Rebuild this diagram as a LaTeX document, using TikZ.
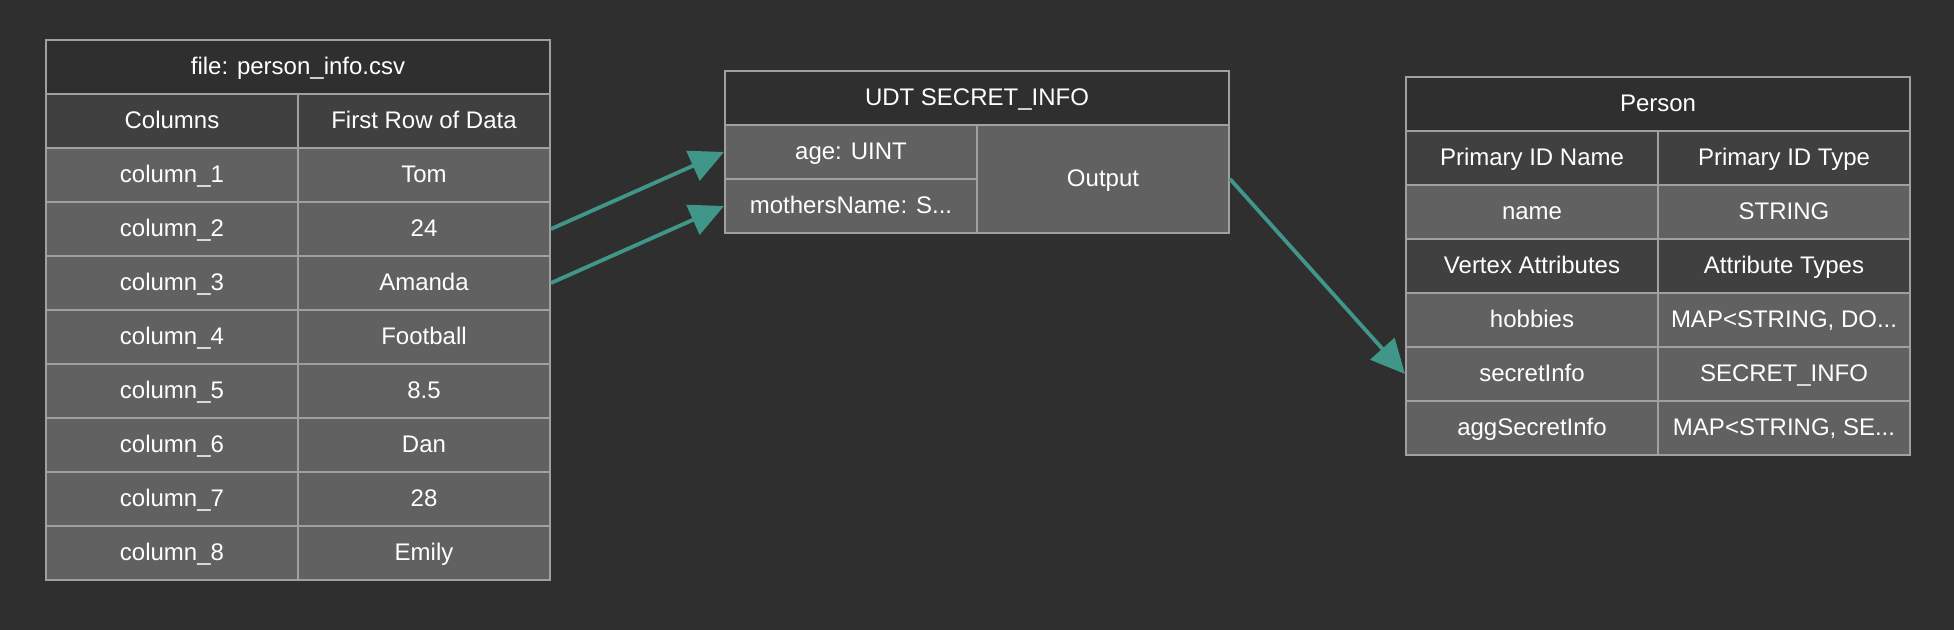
\documentclass[tikz,border=0pt]{standalone}
\usepackage{fontspec}
\setmainfont{Liberation Sans}
\usetikzlibrary{arrows.meta}

\definecolor{bgdark}{RGB}{47,47,47}
\definecolor{headgray}{RGB}{64,64,64}
\definecolor{datagray}{RGB}{97,97,97}
\definecolor{cellline}{RGB}{160,160,160}
\definecolor{linkteal}{RGB}{65,150,138}

\tikzset{
    cell/.style={draw=cellline,line width=1pt,minimum width=126pt,minimum height=27pt,inner sep=0pt,text height=9pt,text depth=1.4pt,text=white,font=\fontsize{12}{14}\selectfont},
    titlecell/.style={cell,fill=bgdark,minimum width=252pt},
    headcell/.style={cell,fill=headgray},
    datacell/.style={cell,fill=datagray},
    link/.style={draw=linkteal,line width=1.9pt,-{Triangle[length=17pt,width=16pt]}}
}

\begin{document}
\begin{tikzpicture}[x=0.5pt,y=-0.5pt]
            \fill[bgdark] (0,0) rectangle (1954,630);
            \useasboundingbox (0,0) rectangle (1954,630);

            % csv file
            \node[titlecell] (file) at (298,67){file: person\_info.csv};
            \node[headcell] (cols) at (172,121){Columns};
            \node[headcell] (first) at (424,121){First Row of Data};
            \node[datacell] (c1) at (172,175){column\_1};
            \node[datacell] (c1v) at (424,175){Tom};
            \node[datacell] (c2) at (172,229){column\_2};
            \node[datacell] (c2v) at (424,229){24};
            \node[datacell] (c3) at (172,283){column\_3};
            \node[datacell] (c3v) at (424,283){Amanda};
            \node[datacell] (c4) at (172,337){column\_4};
            \node[datacell] (c4v) at (424,337){Football};
            \node[datacell] (c5) at (172,391){column\_5};
            \node[datacell] (c5v) at (424,391){8.5};
            \node[datacell] (c6) at (172,445){column\_6};
            \node[datacell] (c6v) at (424,445){Dan};
            \node[datacell] (c7) at (172,499){column\_7};
            \node[datacell] (c7v) at (424,499){28};
            \node[datacell] (c8) at (172,553){column\_8};
            \node[datacell] (c8v) at (424,553){Emily};

            % udt
            \node[titlecell] (udt) at (977,98){UDT SECRET\_INFO};
            \node[datacell] (age) at (851,152){age: UINT};
            \node[datacell] (mname) at (851,206){mothersName: S...};
            \node[datacell,minimum height=54pt] (out) at (1103,179){Output};

            % vertex
            \node[titlecell] (person) at (1658,104){Person};
            \node[headcell] (pidname) at (1532,158){Primary ID Name};
            \node[headcell] (pidtype) at (1784,158){Primary ID Type};
            \node[datacell] (name) at (1532,212){name};
            \node[datacell] (namet) at (1784,212){STRING};
            \node[headcell] (vattr) at (1532,266){Vertex Attributes};
            \node[headcell] (vtype) at (1784,266){Attribute Types};
            \node[datacell] (hob) at (1532,320){hobbies};
            \node[datacell] (hobt) at (1784,320){MAP<STRING, DO...};
            \node[datacell] (secret) at (1532,374){secretInfo};
            \node[datacell] (secrett) at (1784,374){SECRET\_INFO};
            \node[datacell] (agg) at (1532,428){aggSecretInfo};
            \node[datacell] (aggt) at (1784,428){MAP<STRING, SE...};

            \draw[link] (c2v.east) -- (age.west);
            \draw[link] (c3v.east) -- (mname.west);
            \draw[link] (out.east) -- (secret.west);
        \end{tikzpicture}
\end{document}
